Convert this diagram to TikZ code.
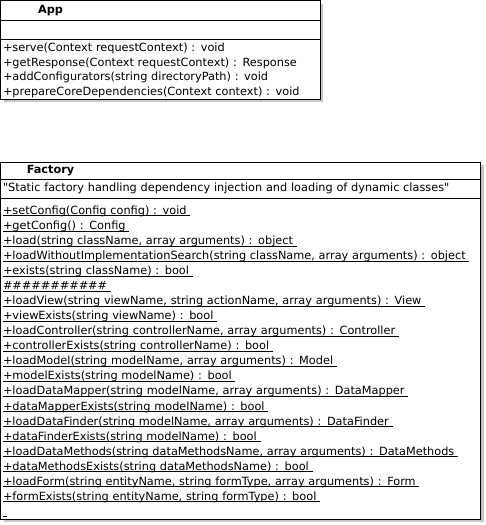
\documentclass[tikz,border=0pt]{standalone}
\usepackage{fontspec}
\setmainfont{DejaVu Sans}
\usetikzlibrary{positioning,backgrounds}

% static members are underlined, rule a bit under the baseline
\newcommand{\statop}[1]{\leavevmode\setbox0\hbox{#1\ }\rlap{\rule[-1.8pt]{\wd0}{0.7pt}}\box0}

\begin{document}
\begin{tikzpicture}[
  x=1pt, y=1pt,
  node distance=0pt,
  cls/.style={draw, line width=0.9pt, fill=white, rectangle, outer sep=0pt,
              inner xsep=2.5pt, inner ysep=0pt, align=left,
              font=\fontsize{11.3}{14.5}\selectfont},
  appcls/.style={cls, text width=314.5pt},
  factcls/.style={cls, text width=475pt},
  ops/.style={font=\fontsize{11.3}{15.05}\selectfont},
  shade/.style={fill=black!22}
]
\useasboundingbox (0,0) rectangle (485,-525);

% App
\node[appcls, minimum height=20pt, anchor=north west] (appname) at (0.5,-0.5)
  {\makebox[95pt]{\bfseries App}};
\node[appcls, minimum height=19pt, below=of appname] (appattr) {};
\node[appcls, minimum height=59.5pt, below=of appattr] (appops)
  {\rule{0pt}{10.5pt}+serve(Context requestContext) : void\\
   +getResponse(Context requestContext) : Response\\
   +addConfigurators(string directoryPath) : void\\
   +prepareCoreDependencies(Context context) : void};

% Factory
\node[factcls, minimum height=17.5pt, anchor=north west] (factname) at (0.5,-162)
  {\makebox[95pt]{\bfseries Factory}};
\node[factcls, minimum height=18.5pt, below=of factname] (factnote)
  {\textquotedbl Static factory handling dependency injection and loading of dynamic classes\textquotedbl};
\node[factcls, ops, minimum height=321pt, below=of factnote] (factops)
  {\rule{0pt}{14.5pt}\statop{+setConfig(Config config) : void}\\
   \statop{+getConfig() : Config}\\
   \statop{+load(string className, array arguments) : object}\\
   \statop{+loadWithoutImplementationSearch(string className, array arguments) : object}\\
   \statop{+exists(string className) : bool}\\
   \statop{\#\#\#\#\#\#\#\#\#\#\#}\\
   \statop{+loadView(string viewName, string actionName, array arguments) : View}\\
   \statop{+viewExists(string viewName) : bool}\\
   \statop{+loadController(string controllerName, array arguments) : Controller}\\
   \statop{+controllerExists(string controllerName) : bool}\\
   \statop{+loadModel(string modelName, array arguments) : Model}\\
   \statop{+modelExists(string modelName) : bool}\\
   \statop{+loadDataMapper(string modelName, array arguments) : DataMapper}\\
   \statop{+dataMapperExists(string modelName) : bool}\\
   \statop{+loadDataFinder(string modelName, array arguments) : DataFinder}\\
   \statop{+dataFinderExists(string modelName) : bool}\\
   \statop{+loadDataMethods(string dataMethodsName, array arguments) : DataMethods}\\
   \statop{+dataMethodsExists(string dataMethodsName) : bool}\\
   \statop{+loadForm(string entityName, string formType, array arguments) : Form}\\
   \statop{+formExists(string entityName, string formType) : bool}\\
   \statop{}};

% drop shadows
\begin{scope}[on background layer]
  \fill[shade] ([shift={(3,-3)}]appname.north west) rectangle ([shift={(3,-3)}]appops.south east);
  \fill[shade] ([shift={(3,-3)}]factname.north west) rectangle ([shift={(3,-3)}]factops.south east);
\end{scope}
\end{tikzpicture}
\end{document}
